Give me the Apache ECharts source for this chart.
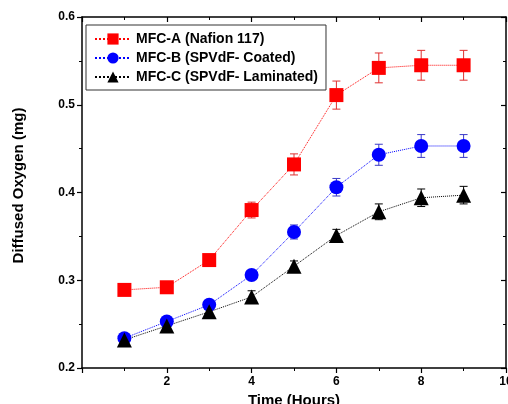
<!DOCTYPE html>
<html>
<head>
<meta charset="utf-8">
<script src="https://cdn.jsdelivr.net/npm/echarts@6/dist/echarts.min.js"></script>
<style>html,body{margin:0;padding:0;background:#fff}#c{width:508px;height:404px}</style>
</head>
<body>
<div id="c"></div>
<script>
var hours = [1, 2, 3, 4, 5, 6, 7, 8, 9];
var seriesNames = ['MFC-A (Nafion 117)', 'MFC-B (SPVdF- Coated)', 'MFC-C (SPVdF- Laminated)'];
var mfcA = [0.289, 0.292, 0.323, 0.380, 0.432, 0.511, 0.542, 0.545, 0.545];
var mfcAErr = [0.003, 0.003, 0.004, 0.009, 0.012, 0.016, 0.017, 0.017, 0.017];
var mfcB = [0.234, 0.253, 0.272, 0.306, 0.355, 0.406, 0.443, 0.453, 0.453];
var mfcBErr = [0.003, 0.003, 0.004, 0.005, 0.008, 0.010, 0.012, 0.013, 0.013];
var mfcC = [0.232, 0.248, 0.264, 0.281, 0.316, 0.351, 0.378, 0.394, 0.397];
var mfcCErr = [0.006, 0.006, 0.006, 0.007, 0.006, 0.007, 0.009, 0.010, 0.010];
var xTicks = [2, 4, 6, 8, 10];
var yTicks = [0.2, 0.3, 0.4, 0.5, 0.6];

var colors = ['#ff0000', '#0000ff', '#000000'];
var errColors = ['#e03030', '#3a3ac8', '#000000'];
var symbols = ['rect', 'circle', 'triangle'];
var vals = [mfcA, mfcB, mfcC];
var errs = [mfcAErr, mfcBErr, mfcCErr];

var chart = echarts.init(document.getElementById('c'));
var font = 'Liberation Sans, Arial, sans-serif';

function errSeries(i) {
  return {
    type: 'custom',
    silent: true,
    z: 1,
    data: hours.map(function (h, k) { return [h, vals[i][k] - errs[i][k], vals[i][k] + errs[i][k]]; }),
    renderItem: function (params, api) {
      var lo = api.coord([api.value(0), api.value(1)]);
      var hi = api.coord([api.value(0), api.value(2)]);
      var w = 4;
      var st = { stroke: errColors[i], lineWidth: 1 };
      return {
        type: 'group',
        children: [
          { type: 'line', shape: { x1: lo[0], y1: lo[1], x2: hi[0], y2: hi[1] }, style: st },
          { type: 'line', shape: { x1: lo[0] - w, y1: lo[1], x2: lo[0] + w, y2: lo[1] }, style: st },
          { type: 'line', shape: { x1: hi[0] - w, y1: hi[1], x2: hi[0] + w, y2: hi[1] }, style: st }
        ]
      };
    }
  };
}

var series = [];
for (var i = 0; i < 3; i++) {
  series.push(errSeries(i));
}
for (var j = 0; j < 3; j++) {
  series.push({
    name: seriesNames[j],
    type: 'line',
    z: 3,
    data: hours.map(function (h, k) { return [h, vals[j][k]]; }),
    symbol: symbols[j],
    symbolSize: j === 2 ? 15 : 14,
    lineStyle: { color: colors[j], width: 1, type: 'dotted' },
    itemStyle: { color: colors[j] },
    emphasis: { disabled: true }
  });
}

var axisLine = { show: true, onZero: false, lineStyle: { color: '#000', width: 1.5 } };
var labelStyle = { color: '#000', fontFamily: font, fontWeight: 'bold', fontSize: 12 };

chart.setOption({
  animation: false,
  backgroundColor: '#fff',
  grid: { left: 82, right: 2, top: 17, bottom: 36, containLabel: false, outerBoundsMode: 'none' },
  legend: {
    left: 86, top: 25,
    orient: 'vertical',
    data: seriesNames,
    itemWidth: 36, itemHeight: 14, itemGap: 5,
    padding: [7, 8, 6, 8],
    borderColor: '#333', borderWidth: 1,
    backgroundColor: '#fff',
    textStyle: { color: '#000', fontFamily: font, fontWeight: 'bold', fontSize: 14 }
  },
  xAxis: [{
    type: 'value', min: 0, max: 10, interval: 2,
    name: 'Time (Hours)', nameLocation: 'middle', nameGap: 18,
    nameTextStyle: { color: '#000', fontFamily: font, fontWeight: 'bold', fontSize: 15 },
    axisLine: axisLine,
    axisTick: { show: true, inside: false, length: 5, lineStyle: { color: '#000', width: 1.2 } },
    minorTick: { show: true, splitNumber: 2, length: 3, lineStyle: { color: '#000', width: 1 } },
    axisLabel: Object.assign({ margin: 8, formatter: function (v) { return xTicks.indexOf(v) >= 0 ? String(v) : ''; } }, labelStyle),
    splitLine: { show: false }
  }, {
    type: 'value', min: 0, max: 10, interval: 2, position: 'top',
    axisLine: axisLine,
    axisTick: { show: true, inside: true, length: 5, lineStyle: { color: '#000', width: 1.2 } },
    minorTick: { show: true, splitNumber: 2, length: 3, lineStyle: { color: '#000', width: 1 } },
    axisLabel: { show: false }, splitLine: { show: false }
  }],
  yAxis: [{
    type: 'value', min: 0.2, max: 0.6, interval: 0.1,
    name: 'Diffused Oxygen (mg)', nameLocation: 'middle', nameGap: 56,
    nameTextStyle: { color: '#000', fontFamily: font, fontWeight: 'bold', fontSize: 15, padding: [0, 0, 0, 14] },
    axisLine: axisLine,
    axisTick: { show: true, inside: false, length: 5, lineStyle: { color: '#000', width: 1.2 } },
    minorTick: { show: true, splitNumber: 2, length: 3, lineStyle: { color: '#000', width: 1 } },
    axisLabel: Object.assign({ margin: 7, formatter: function (v) { return v.toFixed(1); } }, labelStyle),
    splitLine: { show: false }
  }, {
    type: 'value', min: 0.2, max: 0.6, interval: 0.1, position: 'right',
    axisLine: axisLine,
    axisTick: { show: true, inside: true, length: 5, lineStyle: { color: '#000', width: 1.2 } },
    minorTick: { show: true, splitNumber: 2, length: 3, lineStyle: { color: '#000', width: 1 } },
    axisLabel: { show: false }, splitLine: { show: false }
  }],
  series: series
});
</script>
</body>
</html>
